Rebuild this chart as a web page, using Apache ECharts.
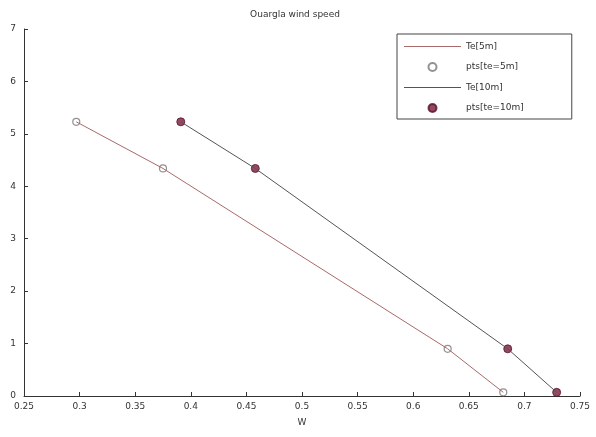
<!DOCTYPE html>
<html>
<head>
<meta charset="utf-8">
<script src="https://cdn.jsdelivr.net/npm/echarts@6/dist/echarts.min.js"></script>
<style>html,body{margin:0;padding:0;background:#fff}#c{width:596px;height:437px}</style>
</head>
<body>
<div id="c"></div>
<script>
const titleText = 'Ouargla wind speed';
const xName = 'W';
const yValues = [5.23, 4.34, 0.9, 0.07];
const te5x = [0.297, 0.375, 0.631, 0.681];
const te10x = [0.391, 0.458, 0.685, 0.729];
const seriesNames = ['Te[5m]', 'pts[te=5m]', 'Te[10m]', 'pts[te=10m]'];

const pairs = (xs) => xs.map((x, i) => [x, yValues[i]]);
const font = 'DejaVu Sans';
const lineIcon = 'path://M0,0L0,0ZM0,3.5L57,3.5L57,4.5L0,4.5ZM57,8L57,8Z';
const chart = echarts.init(document.getElementById('c'));
chart.setOption({
  animation: false,
  backgroundColor: '#fff',
  title: {text: titleText, left: 290, top: 5, textAlign: 'center',
    textStyle: {fontSize: 9, fontWeight: 'normal', color: '#333', fontFamily: font}},
  grid: {left: 24, right: 16, top: 29, bottom: 41},
  legend: {
    orient: 'vertical', left: 397, top: 34, 
    padding: [8, 48, 6, 7], itemGap: 11, itemWidth: 57, itemHeight: 8,
    borderColor: '#444', borderWidth: 1, backgroundColor: '#fff',
    textStyle: {fontSize: 9, color: '#333', fontFamily: font},
    data: [
      {name: seriesNames[0], icon: lineIcon},
      {name: seriesNames[1]},
      {name: seriesNames[2], icon: lineIcon},
      {name: seriesNames[3]}
    ]
  },
  xAxis: {
    type: 'value', min: 0.25, max: 0.75, interval: 0.05,
    name: xName, nameLocation: 'middle', nameGap: 22,
    nameTextStyle: {fontSize: 9, color: '#333', fontFamily: font},
    axisLine: {show: true, onZero: false, lineStyle: {color: '#333'}},
    axisTick: {show: true, inside: true, length: 4, lineStyle: {color: '#333'}},
    axisLabel: {fontSize: 9, color: '#333', fontFamily: font, margin: 6,
      formatter: v => String(+v.toFixed(2))},
    splitLine: {show: false}
  },
  yAxis: {
    type: 'value', min: 0, max: 7, interval: 1,
    axisLine: {show: true, onZero: false, lineStyle: {color: '#333'}},
    axisTick: {show: true, inside: true, length: 4, lineStyle: {color: '#333'}},
    axisLabel: {fontSize: 9, color: '#333', fontFamily: font, margin: 8},
    splitLine: {show: false}
  },
  series: [
    {name: seriesNames[0], type: 'line', data: pairs(te5x), symbol: 'none',
      lineStyle: {color: '#a86a6a', width: 1}, itemStyle: {color: '#a86a6a'}},
    {name: seriesNames[1], type: 'scatter', data: pairs(te5x), symbol: 'circle', symbolSize: 7,
      itemStyle: {color: '#fff', borderColor: '#777', borderWidth: 1.2}},
    {name: seriesNames[2], type: 'line', data: pairs(te10x), symbol: 'none',
      lineStyle: {color: '#555', width: 1}, itemStyle: {color: '#555'}},
    {name: seriesNames[3], type: 'scatter', data: pairs(te10x), symbol: 'circle', symbolSize: 8,
      itemStyle: {color: '#7a1a3a', borderColor: '#5a1028', borderWidth: 1}}
  ]
});
</script>
</body>
</html>
